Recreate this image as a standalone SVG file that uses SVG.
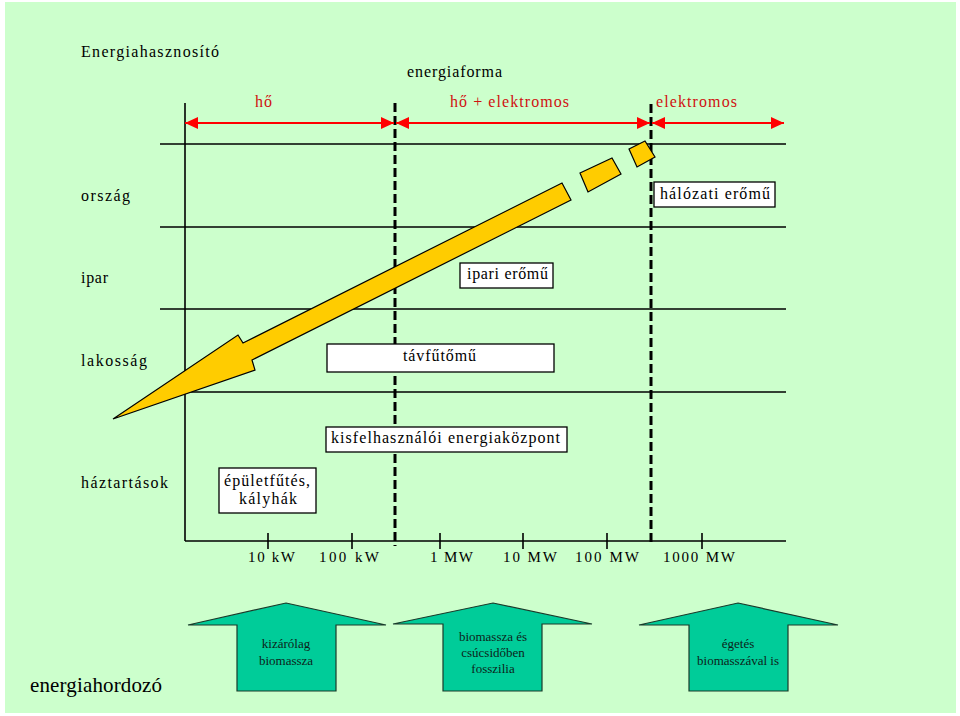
<svg xmlns="http://www.w3.org/2000/svg" width="960" height="716" viewBox="0 0 960 716">
<style>
text{font-family:"Liberation Serif","Times New Roman",serif;fill:#000}
.lbl{font-size:16px}
.red{font-size:16px;fill:#d01010}
.box{fill:#fff;stroke:#000;stroke-width:1.3}
.grid{stroke:#000;stroke-width:1.6;fill:none}
.dash{stroke:#000;stroke-width:3;stroke-dasharray:9 4;fill:none}
.rarrow{stroke:#ff0000;stroke-width:2;fill:none}
.green{fill:#00cc99;stroke:#1a3a2a;stroke-width:1.2}
.gt{font-size:13px;fill:#0d1f1a;text-anchor:middle}
.yel{fill:#ffcc00;stroke:#000;stroke-width:1.2}
.tick{font-size:15px}
</style>
<defs>
<marker id="ah" viewBox="0 0 13 12" refX="13" refY="6" markerWidth="13" markerHeight="12" markerUnits="userSpaceOnUse" orient="auto-start-reverse">
<path d="M0,0 L13,6 L0,12 z" fill="#ff0000"/>
</marker>
</defs>
<rect x="5" y="2" width="951" height="711" fill="#ccffcc"/>

<g id="titles">
<text class="lbl" x="81" y="57" textLength="138" lengthAdjust="spacing">Energiahasznosító</text>
<text class="lbl" x="407" y="77" textLength="95" lengthAdjust="spacing">energiaforma</text>
<text x="30" y="692" style="font-size:21px" textLength="132" lengthAdjust="spacing">energiahordozó</text>
</g>

<g id="grid">
<line class="grid" x1="185" y1="103" x2="185" y2="541"/>
<line class="grid" x1="160" y1="144" x2="786" y2="144"/>
<line class="grid" x1="160" y1="227" x2="786" y2="227"/>
<line class="grid" x1="160" y1="309" x2="786" y2="309"/>
<line class="grid" x1="160" y1="392" x2="786" y2="392"/>
<line class="grid" x1="185" y1="541" x2="786" y2="541"/>
<line class="grid" x1="268" y1="533" x2="268" y2="549"/>
<line class="grid" x1="352" y1="533" x2="352" y2="549"/>
<line class="grid" x1="440" y1="533" x2="440" y2="549"/>
<line class="grid" x1="523" y1="533" x2="523" y2="549"/>
<line class="grid" x1="607" y1="533" x2="607" y2="549"/>
<line class="grid" x1="702" y1="533" x2="702" y2="549"/>
<line class="dash" x1="395" y1="103" x2="395" y2="546"/>
<line class="dash" x1="651" y1="104" x2="651" y2="546"/>
</g>

<g id="rows">
<text class="lbl" x="81" y="201" textLength="49" lengthAdjust="spacing">ország</text>
<text class="lbl" x="81" y="283" textLength="27" lengthAdjust="spacing">ipar</text>
<text class="lbl" x="81" y="366" textLength="66" lengthAdjust="spacing">lakosság</text>
<text class="lbl" x="81" y="488" textLength="87" lengthAdjust="spacing">háztartások</text>
</g>

<g id="scale">
<text class="tick" x="248" y="562" textLength="47" lengthAdjust="spacing">10 kW</text>
<text class="tick" x="319" y="562" textLength="60" lengthAdjust="spacing">100 kW</text>
<text class="tick" x="430" y="562" textLength="43" lengthAdjust="spacing">1 MW</text>
<text class="tick" x="503" y="562" textLength="54" lengthAdjust="spacing">10 MW</text>
<text class="tick" x="575" y="562" textLength="64" lengthAdjust="spacing">100 MW</text>
<text class="tick" x="663" y="562" textLength="72" lengthAdjust="spacing">1000 MW</text>
</g>

<g id="connectors">
<line class="rarrow" x1="185" y1="123" x2="394" y2="123" marker-start="url(#ah)" marker-end="url(#ah)"/>
<line class="rarrow" x1="396" y1="123" x2="650" y2="123" marker-start="url(#ah)" marker-end="url(#ah)"/>
<line class="rarrow" x1="652" y1="123" x2="784" y2="123" marker-start="url(#ah)" marker-end="url(#ah)"/>
<polygon class="yel" points="113,419 238,335 243,343 562,183 571,200 252,360 255,370"/>
<polygon class="yel" points="580,173 612,158 621,174 588,192"/>
<polygon class="yel" points="629,149 645,141 655,157 637,167"/>
</g>

<g id="energy-labels">
<text class="red" x="255" y="107" textLength="17" lengthAdjust="spacing">hő</text>
<text class="red" x="450" y="107" textLength="119" lengthAdjust="spacing">hő + elektromos</text>
<text class="red" x="656" y="107" textLength="81" lengthAdjust="spacing">elektromos</text>
</g>

<g id="node-halozati">
<rect class="box" x="654" y="182" width="121" height="25"/>
<text class="lbl" x="660" y="199" textLength="110" lengthAdjust="spacing">hálózati erőmű</text>
</g>
<g id="node-ipari">
<rect class="box" x="460" y="263" width="93" height="25"/>
<text class="lbl" x="467" y="279" textLength="81" lengthAdjust="spacing">ipari erőmű</text>
</g>
<g id="node-tavfuto">
<rect class="box" x="327" y="344" width="227" height="28"/>
<text class="lbl" x="403" y="361" textLength="73" lengthAdjust="spacing">távfűtőmű</text>
</g>
<g id="node-kisfelhasznaloi">
<rect class="box" x="326" y="427" width="241" height="25"/>
<text class="lbl" x="331" y="443" textLength="229" lengthAdjust="spacing">kisfelhasználói energiaközpont</text>
</g>
<g id="node-epuletfutes">
<rect class="box" x="219" y="468" width="97" height="45"/>
<text class="lbl" x="224" y="486" textLength="86" lengthAdjust="spacing">épületfűtés,</text>
<text class="lbl" x="239" y="504" textLength="58" lengthAdjust="spacing">kályhák</text>
</g>

<g id="carrier-1">
<polygon class="green" points="286,603 386,625 336,625 336,691 237,691 237,625 188,625"/>
<text class="gt" x="286" y="648">kizárólag</text>
<text class="gt" x="286" y="665">biomassza</text>
</g>
<g id="carrier-2">
<polygon class="green" points="493,603 592,624 542,624 542,691 443,691 443,624 393,624"/>
<text class="gt" x="493" y="641">biomassza és</text>
<text class="gt" x="493" y="657">csúcsidőben</text>
<text class="gt" x="493" y="673">fosszilia</text>
</g>
<g id="carrier-3">
<polygon class="green" points="738,603 838,625 788,625 788,691 689,691 689,625 639,625"/>
<text class="gt" x="738" y="648">égetés</text>
<text class="gt" x="738" y="665">biomasszával is</text>
</g>
</svg>
